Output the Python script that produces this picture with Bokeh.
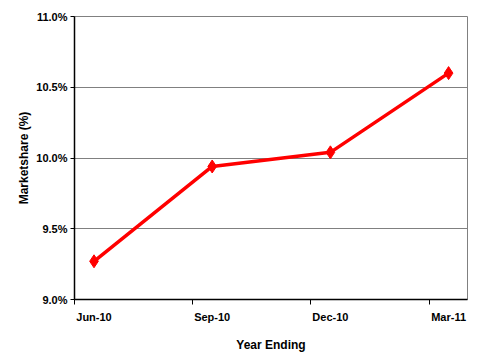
from bokeh.plotting import figure
from bokeh.models import FixedTicker, Range1d, ColumnDataSource, PrintfTickFormatter
from bokeh.embed import file_html
from bokeh.resources import INLINE

categories = ["Jun-10", "Sep-10", "Dec-10", "Mar-11"]
marketshare = [9.27, 9.94, 10.04, 10.60]
y_ticks = [9.0, 9.5, 10.0, 10.5, 11.0]

xs = list(range(len(categories)))
src = ColumnDataSource(dict(x=xs, y=marketshare))

p = figure(width=502, height=362, output_backend="svg", toolbar_location=None,
           x_range=Range1d(-0.165, len(categories) - 1 + 0.16),
           y_range=Range1d(y_ticks[0], y_ticks[-1]),
           min_border_left=74, min_border_right=35, min_border_top=16, min_border_bottom=63)

p.line("x", "y", source=src, line_color="#FF0000", line_width=3.5)
p.scatter("x", "y", source=src, marker="diamond", size=13, fill_color="#FF0000", line_color="#FF0000")

font = "Liberation Sans"
p.outline_line_color = "#808080"
p.background_fill_color = "white"
p.border_fill_color = "white"

p.xgrid.grid_line_color = None
p.ygrid.grid_line_color = "#808080"
p.ygrid.ticker = FixedTicker(ticks=y_ticks)

p.xaxis.ticker = FixedTicker(ticks=xs, minor_ticks=[x - 0.165 for x in xs])
p.xaxis.major_label_overrides = {i: c for i, c in enumerate(categories)}
p.xaxis.major_tick_line_color = None
p.xaxis.minor_tick_line_color = "black"
p.xaxis.minor_tick_out = 5
p.xaxis.minor_tick_in = 0
p.xaxis.axis_label = "Year Ending"

p.yaxis.ticker = FixedTicker(ticks=y_ticks)
p.yaxis.formatter = PrintfTickFormatter(format="%.1f%%")
p.yaxis.major_tick_out = 4
p.yaxis.major_tick_in = 0
p.yaxis.minor_tick_line_color = None
p.yaxis.axis_label = "Marketshare (%)"

for ax in (p.xaxis, p.yaxis):
    ax.axis_line_color = "black"
    ax.axis_line_width = 1.5
    ax.major_label_text_font = font
    ax.major_label_text_font_size = "11px"
    ax.major_label_text_font_style = "bold"
    ax.major_label_text_color = "black"
    ax.axis_label_text_font = font
    ax.axis_label_text_font_size = "12px"
    ax.axis_label_text_font_style = "bold"
    ax.axis_label_text_color = "black"

p.xaxis.major_label_standoff = 5
p.xaxis.axis_label_standoff = 12
p.yaxis.major_label_standoff = 3
p.yaxis.axis_label_standoff = 2

open("out.html", "w").write(file_html(p, INLINE))
